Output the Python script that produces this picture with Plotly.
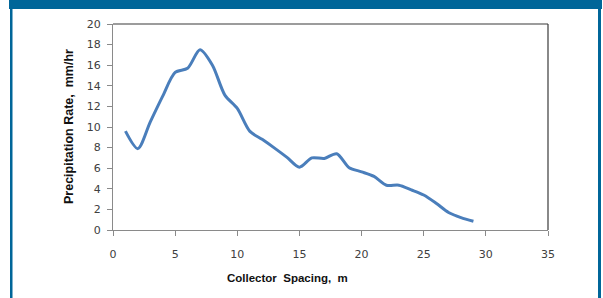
import plotly.graph_objects as go

spacing_m = list(range(1, 30))
precip_mm_hr = [9.6, 7.9, 10.5, 13.0, 15.3, 15.7, 17.5, 16.0, 13.1, 11.8,
                9.6, 8.8, 7.95, 7.05, 6.1, 7.0, 6.95, 7.4, 6.05, 5.65,
                5.2, 4.35, 4.35, 3.9, 3.4, 2.6, 1.7, 1.2, 0.85]

x_ticks = [0, 5, 10, 15, 20, 25, 30, 35]
y_ticks = list(range(0, 21, 2))

W, H = 603, 298
L, R, T, B = 113, 55, 24, 68
pw, ph = W - L - R, H - T - B


def px(xp):
    return (xp - L) / pw


def py(yp):
    return (H - B - yp) / ph


fig = go.Figure()
fig.add_trace(go.Scatter(
    x=spacing_m, y=precip_mm_hr, mode="lines",
    line=dict(color="#4A7EBB", width=3, shape="spline", smoothing=0.8),
    hoverinfo="skip", showlegend=False))

BLUE = "#006699"
shapes = [
    # frame top/right
    dict(type="line", xref="paper", yref="paper", x0=0, x1=1, y0=1, y1=1,
         line=dict(color="#3a3a3a", width=1.2)),
    dict(type="line", xref="paper", yref="paper", x0=1, x1=1, y0=0, y1=1,
         line=dict(color="#3a3a3a", width=1.2)),
    # outer blue box
    dict(type="rect", xref="paper", yref="paper", x0=px(9), x1=px(602),
         y0=py(9), y1=py(-2), line=dict(width=0), fillcolor=BLUE),
    dict(type="rect", xref="paper", yref="paper", x0=px(10), x1=px(12.5),
         y0=py(300), y1=py(0), line=dict(width=0), fillcolor=BLUE),
    dict(type="rect", xref="paper", yref="paper", x0=px(598), x1=px(601),
         y0=py(300), y1=py(0), line=dict(width=0), fillcolor=BLUE),
]

annotations = [
    dict(text="<b>Collector  Spacing,  m</b>", xref="paper", yref="paper",
         x=px(287), y=py(278), xanchor="center", yanchor="middle",
         showarrow=False,
         font=dict(family="Liberation Sans, Arial", size=11.5, color="#111111")),
    dict(text="<b>Precipitation Rate,  mm/hr</b>", xref="paper", yref="paper",
         x=px(69), y=py(127), xanchor="center", yanchor="middle",
         showarrow=False, textangle=-90,
         font=dict(family="Liberation Sans, Arial", size=12.5, color="#111111")),
]

tick_font = dict(family="DejaVu Sans", size=11, color="#404040")

fig.update_layout(
    width=W, height=H,
    margin=dict(l=L, r=R, t=T, b=B),
    paper_bgcolor="white", plot_bgcolor="white",
    shapes=shapes, annotations=annotations,
    xaxis=dict(range=[0, 35], tickvals=x_ticks, ticks="outside", ticklen=5,
               tickcolor="#8a8a8a", showline=True, linecolor="#8a8a8a",
               linewidth=1, showgrid=False, zeroline=False,
               tickfont=tick_font, ticklabelstandoff=9),
    yaxis=dict(range=[0, 20], tickvals=y_ticks, ticks="outside", ticklen=5,
               tickcolor="#8a8a8a", showline=True, linecolor="#8a8a8a",
               linewidth=1, showgrid=False, zeroline=False,
               tickfont=tick_font, ticklabelstandoff=4),
)

fig.write_html("out.html", config={"displayModeBar": False},
               post_script="document.body.style.margin='0';"
                           "document.body.style.overflow='hidden';")
